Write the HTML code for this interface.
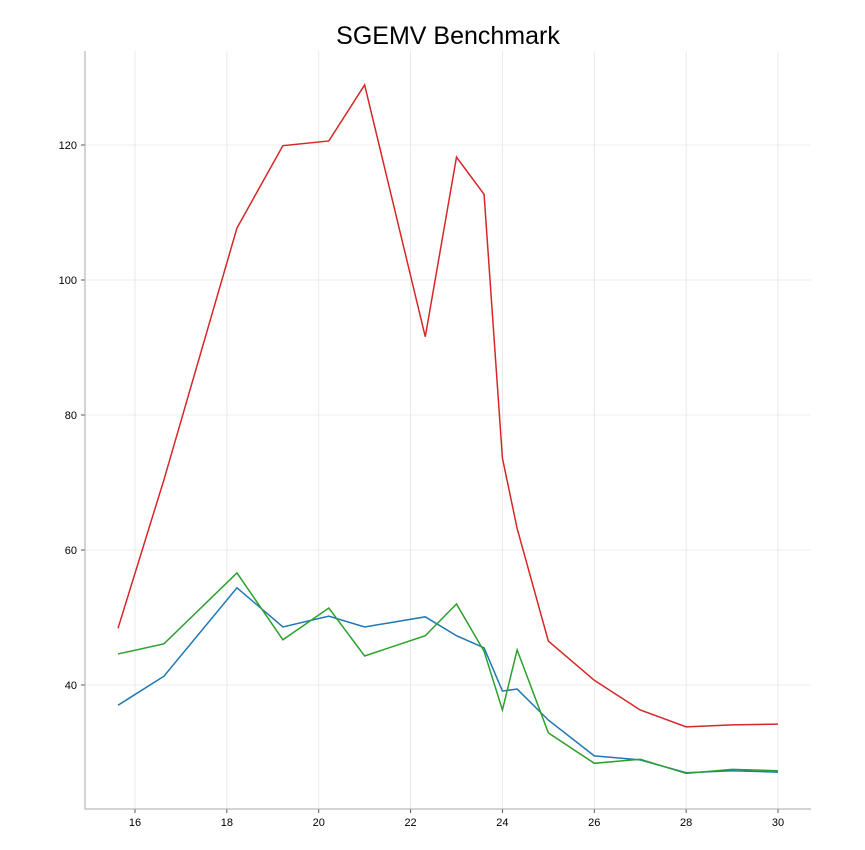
<!DOCTYPE html>
<html><head><meta charset="utf-8"><style>
body{margin:0;background:#fff;}
svg{display:block;font-family:"Liberation Sans","DejaVu Sans",sans-serif;}
</style></head><body>
<svg id="chart" width="865" height="850"></svg>
<script>
const xValues=[15.63,16.63,18.22,19.22,20.22,21.0,22.32,23.0,23.6,24.0,24.32,25.0,26.0,27.0,28.0,29.0,30.0];
const redValues=[48.4,70.4,107.7,119.9,120.6,128.9,91.6,118.2,112.7,73.6,63.2,46.5,40.7,36.3,33.8,34.1,34.2];
const blueValues=[37.0,41.3,54.4,48.6,50.2,48.6,50.1,47.3,45.5,39.1,39.4,34.8,29.5,28.9,27.0,27.3,27.1];
const greenValues=[44.6,46.1,56.6,46.7,51.4,44.3,47.3,52.0,45.0,36.3,45.2,32.9,28.4,29.0,26.9,27.5,27.3];
const xTicks=[16,18,20,22,24,26,28,30];
const yTicks=[40,60,80,100,120];
const NS="http://www.w3.org/2000/svg";
const svg=document.getElementById('chart');
const L=85,R=811,T=51,B=809;
const sx=v=>135+(v-16)*(643/14);
const sy=v=>685-(v-40)*6.75;
function mk(tag,attrs,parent){const e=document.createElementNS(NS,tag);for(const k in attrs)e.setAttribute(k,attrs[k]);(parent||svg).appendChild(e);return e;}
const title=mk('text',{x:448,y:44,'text-anchor':'middle','font-size':25,fill:'#000'});


title.textContent='SGEMV Benchmark';
xTicks.forEach(t=>{
 const g=mk('line',{x1:sx(t),x2:sx(t),y1:T,y2:B,stroke:'#e6e6e6','stroke-width':0.8});
 
 
 mk('line',{x1:sx(t),x2:sx(t),y1:B,y2:B+4,stroke:'#555'});
 const tx=mk('text',{x:sx(t),y:B+17,'text-anchor':'middle','font-size':11,fill:'#000'});
 
 
 tx.textContent=t;
});
yTicks.forEach(t=>{
 const g=mk('line',{x1:L,x2:R,y1:sy(t),y2:sy(t),stroke:'#e6e6e6','stroke-width':0.8});
 
 
 mk('line',{x1:L-4,x2:L,y1:sy(t),y2:sy(t),stroke:'#555'});
 const tx=mk('text',{x:L-8,y:sy(t)+4,'text-anchor':'end','font-size':11,fill:'#000'});
 
 
 tx.textContent=t;
});
const ax=mk('path',{d:`M${L},${T}V${B}H${R}`,fill:'none',stroke:'#aaa','stroke-width':1});


function series(vals,color,name){
 const p=mk('polyline',{points:vals.map((v,i)=>sx(xValues[i])+','+sy(v)).join(' '),fill:'none',stroke:color,'stroke-width':1.5});
 
 
}
series(blueValues,'#1f77b4','blue-series-line');
series(greenValues,'#2ca02c','green-series-line');
series(redValues,'#d62728','red-series-line');
</script>
</body></html>
